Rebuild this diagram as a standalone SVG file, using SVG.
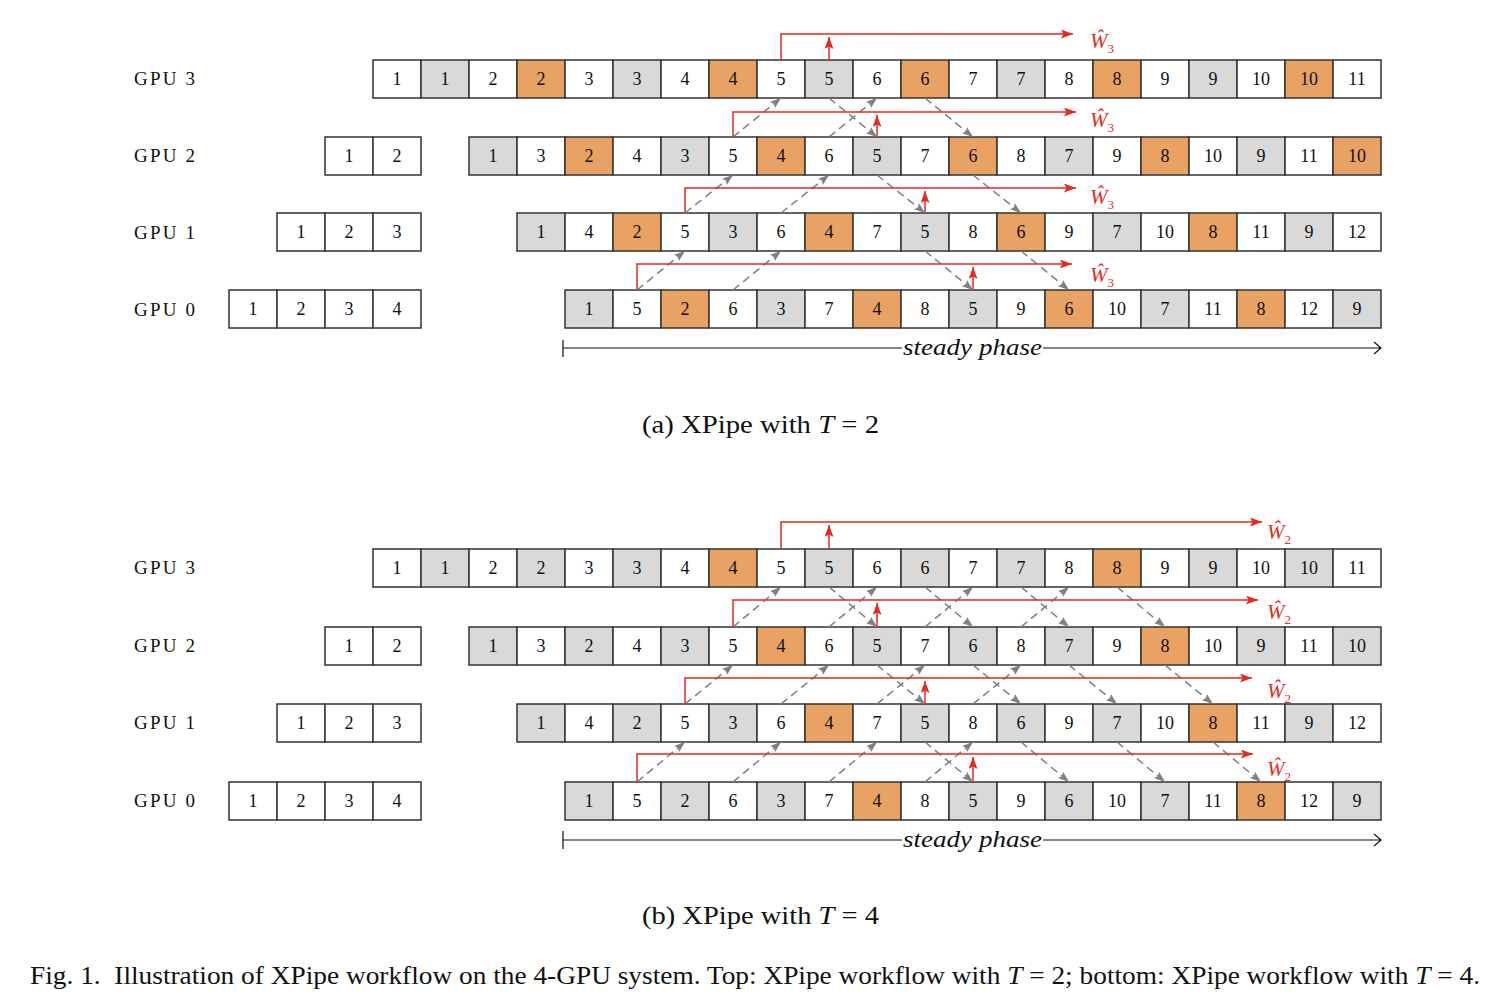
<svg xmlns="http://www.w3.org/2000/svg" width="1500" height="1006" viewBox="0 0 1500 1006">
<defs>
<style>
.cells rect{stroke:#333;stroke-width:1.5}
.w{fill:#fff}.g{fill:#d9d9d9}.o{fill:#e8a263}
text{font-family:"Liberation Serif","Times New Roman",serif;fill:#111}
.n{font-size:18px;text-anchor:middle}
.lbl{font-size:19px}
.red{stroke:#e8291c;stroke-width:1.5;fill:none}
.dash{stroke:#808080;stroke-width:1.5;stroke-dasharray:8 5;fill:none}
.blk{stroke:#111;stroke-width:1.2;fill:none}
.wl{fill:#e8291c;font-style:italic;font-size:21px}
.ws{fill:#e8291c;font-style:normal;font-size:13px}
.cap{font-size:26px}
.it{font-style:italic}
</style>
<marker id="ra" markerWidth="13" markerHeight="10" refX="12" refY="4.5" orient="auto" markerUnits="userSpaceOnUse"><path d="M0,0 L12,4.5 L0,9 L2.5,4.5 z" fill="#e8291c"/></marker>
<marker id="ga" markerWidth="12" markerHeight="10" refX="11" refY="4" orient="auto" markerUnits="userSpaceOnUse"><path d="M0,0 L11,4 L0,8 L2,4 z" fill="#808080"/></marker>
</defs>
<rect x="0" y="0" width="1500" height="1006" style="fill:#fff;stroke:none"/>

<g id="a-labels">
<text class="lbl" x="134" y="85" textLength="61">GPU 3</text>
<text class="lbl" x="134" y="162" textLength="61">GPU 2</text>
<text class="lbl" x="134" y="239" textLength="61">GPU 1</text>
<text class="lbl" x="134" y="316" textLength="61">GPU 0</text>
</g>

<g class="cells">
<g id="a-gpu3" transform="translate(0,60)">
<g id="a3-1"><rect class="w" x="373" width="48" height="38"/><text class="n" x="397" y="25">1</text></g>
<g id="a3-2"><rect class="g" x="421" width="48" height="38"/><text class="n" x="445" y="25">1</text></g>
<g id="a3-3"><rect class="w" x="469" width="48" height="38"/><text class="n" x="493" y="25">2</text></g>
<g id="a3-4"><rect class="o" x="517" width="48" height="38"/><text class="n" x="541" y="25">2</text></g>
<g id="a3-5"><rect class="w" x="565" width="48" height="38"/><text class="n" x="589" y="25">3</text></g>
<g id="a3-6"><rect class="g" x="613" width="48" height="38"/><text class="n" x="637" y="25">3</text></g>
<g id="a3-7"><rect class="w" x="661" width="48" height="38"/><text class="n" x="685" y="25">4</text></g>
<g id="a3-8"><rect class="o" x="709" width="48" height="38"/><text class="n" x="733" y="25">4</text></g>
<g id="a3-9"><rect class="w" x="757" width="48" height="38"/><text class="n" x="781" y="25">5</text></g>
<g id="a3-10"><rect class="g" x="805" width="48" height="38"/><text class="n" x="829" y="25">5</text></g>
<g id="a3-11"><rect class="w" x="853" width="48" height="38"/><text class="n" x="877" y="25">6</text></g>
<g id="a3-12"><rect class="o" x="901" width="48" height="38"/><text class="n" x="925" y="25">6</text></g>
<g id="a3-13"><rect class="w" x="949" width="48" height="38"/><text class="n" x="973" y="25">7</text></g>
<g id="a3-14"><rect class="g" x="997" width="48" height="38"/><text class="n" x="1021" y="25">7</text></g>
<g id="a3-15"><rect class="w" x="1045" width="48" height="38"/><text class="n" x="1069" y="25">8</text></g>
<g id="a3-16"><rect class="o" x="1093" width="48" height="38"/><text class="n" x="1117" y="25">8</text></g>
<g id="a3-17"><rect class="w" x="1141" width="48" height="38"/><text class="n" x="1165" y="25">9</text></g>
<g id="a3-18"><rect class="g" x="1189" width="48" height="38"/><text class="n" x="1213" y="25">9</text></g>
<g id="a3-19"><rect class="w" x="1237" width="48" height="38"/><text class="n" x="1261" y="25">10</text></g>
<g id="a3-20"><rect class="o" x="1285" width="48" height="38"/><text class="n" x="1309" y="25">10</text></g>
<g id="a3-21"><rect class="w" x="1333" width="48" height="38"/><text class="n" x="1357" y="25">11</text></g>
</g>

<g id="a-gpu2" transform="translate(0,137)">
<g id="a2-w1"><rect class="w" x="325" width="48" height="38"/><text class="n" x="349" y="25">1</text></g>
<g id="a2-w2"><rect class="w" x="373" width="48" height="38"/><text class="n" x="397" y="25">2</text></g>
<g id="a2-1"><rect class="g" x="469" width="48" height="38"/><text class="n" x="493" y="25">1</text></g>
<g id="a2-2"><rect class="w" x="517" width="48" height="38"/><text class="n" x="541" y="25">3</text></g>
<g id="a2-3"><rect class="o" x="565" width="48" height="38"/><text class="n" x="589" y="25">2</text></g>
<g id="a2-4"><rect class="w" x="613" width="48" height="38"/><text class="n" x="637" y="25">4</text></g>
<g id="a2-5"><rect class="g" x="661" width="48" height="38"/><text class="n" x="685" y="25">3</text></g>
<g id="a2-6"><rect class="w" x="709" width="48" height="38"/><text class="n" x="733" y="25">5</text></g>
<g id="a2-7"><rect class="o" x="757" width="48" height="38"/><text class="n" x="781" y="25">4</text></g>
<g id="a2-8"><rect class="w" x="805" width="48" height="38"/><text class="n" x="829" y="25">6</text></g>
<g id="a2-9"><rect class="g" x="853" width="48" height="38"/><text class="n" x="877" y="25">5</text></g>
<g id="a2-10"><rect class="w" x="901" width="48" height="38"/><text class="n" x="925" y="25">7</text></g>
<g id="a2-11"><rect class="o" x="949" width="48" height="38"/><text class="n" x="973" y="25">6</text></g>
<g id="a2-12"><rect class="w" x="997" width="48" height="38"/><text class="n" x="1021" y="25">8</text></g>
<g id="a2-13"><rect class="g" x="1045" width="48" height="38"/><text class="n" x="1069" y="25">7</text></g>
<g id="a2-14"><rect class="w" x="1093" width="48" height="38"/><text class="n" x="1117" y="25">9</text></g>
<g id="a2-15"><rect class="o" x="1141" width="48" height="38"/><text class="n" x="1165" y="25">8</text></g>
<g id="a2-16"><rect class="w" x="1189" width="48" height="38"/><text class="n" x="1213" y="25">10</text></g>
<g id="a2-17"><rect class="g" x="1237" width="48" height="38"/><text class="n" x="1261" y="25">9</text></g>
<g id="a2-18"><rect class="w" x="1285" width="48" height="38"/><text class="n" x="1309" y="25">11</text></g>
<g id="a2-19"><rect class="o" x="1333" width="48" height="38"/><text class="n" x="1357" y="25">10</text></g>
</g>

<g id="a-gpu1" transform="translate(0,213)">
<g id="a1-w1"><rect class="w" x="277" width="48" height="38"/><text class="n" x="301" y="25">1</text></g>
<g id="a1-w2"><rect class="w" x="325" width="48" height="38"/><text class="n" x="349" y="25">2</text></g>
<g id="a1-w3"><rect class="w" x="373" width="48" height="38"/><text class="n" x="397" y="25">3</text></g>
<g id="a1-1"><rect class="g" x="517" width="48" height="38"/><text class="n" x="541" y="25">1</text></g>
<g id="a1-2"><rect class="w" x="565" width="48" height="38"/><text class="n" x="589" y="25">4</text></g>
<g id="a1-3"><rect class="o" x="613" width="48" height="38"/><text class="n" x="637" y="25">2</text></g>
<g id="a1-4"><rect class="w" x="661" width="48" height="38"/><text class="n" x="685" y="25">5</text></g>
<g id="a1-5"><rect class="g" x="709" width="48" height="38"/><text class="n" x="733" y="25">3</text></g>
<g id="a1-6"><rect class="w" x="757" width="48" height="38"/><text class="n" x="781" y="25">6</text></g>
<g id="a1-7"><rect class="o" x="805" width="48" height="38"/><text class="n" x="829" y="25">4</text></g>
<g id="a1-8"><rect class="w" x="853" width="48" height="38"/><text class="n" x="877" y="25">7</text></g>
<g id="a1-9"><rect class="g" x="901" width="48" height="38"/><text class="n" x="925" y="25">5</text></g>
<g id="a1-10"><rect class="w" x="949" width="48" height="38"/><text class="n" x="973" y="25">8</text></g>
<g id="a1-11"><rect class="o" x="997" width="48" height="38"/><text class="n" x="1021" y="25">6</text></g>
<g id="a1-12"><rect class="w" x="1045" width="48" height="38"/><text class="n" x="1069" y="25">9</text></g>
<g id="a1-13"><rect class="g" x="1093" width="48" height="38"/><text class="n" x="1117" y="25">7</text></g>
<g id="a1-14"><rect class="w" x="1141" width="48" height="38"/><text class="n" x="1165" y="25">10</text></g>
<g id="a1-15"><rect class="o" x="1189" width="48" height="38"/><text class="n" x="1213" y="25">8</text></g>
<g id="a1-16"><rect class="w" x="1237" width="48" height="38"/><text class="n" x="1261" y="25">11</text></g>
<g id="a1-17"><rect class="g" x="1285" width="48" height="38"/><text class="n" x="1309" y="25">9</text></g>
<g id="a1-18"><rect class="w" x="1333" width="48" height="38"/><text class="n" x="1357" y="25">12</text></g>
</g>

<g id="a-gpu0" transform="translate(0,290)">
<g id="a0-w1"><rect class="w" x="229" width="48" height="38"/><text class="n" x="253" y="25">1</text></g>
<g id="a0-w2"><rect class="w" x="277" width="48" height="38"/><text class="n" x="301" y="25">2</text></g>
<g id="a0-w3"><rect class="w" x="325" width="48" height="38"/><text class="n" x="349" y="25">3</text></g>
<g id="a0-w4"><rect class="w" x="373" width="48" height="38"/><text class="n" x="397" y="25">4</text></g>
<g id="a0-1"><rect class="g" x="565" width="48" height="38"/><text class="n" x="589" y="25">1</text></g>
<g id="a0-2"><rect class="w" x="613" width="48" height="38"/><text class="n" x="637" y="25">5</text></g>
<g id="a0-3"><rect class="o" x="661" width="48" height="38"/><text class="n" x="685" y="25">2</text></g>
<g id="a0-4"><rect class="w" x="709" width="48" height="38"/><text class="n" x="733" y="25">6</text></g>
<g id="a0-5"><rect class="g" x="757" width="48" height="38"/><text class="n" x="781" y="25">3</text></g>
<g id="a0-6"><rect class="w" x="805" width="48" height="38"/><text class="n" x="829" y="25">7</text></g>
<g id="a0-7"><rect class="o" x="853" width="48" height="38"/><text class="n" x="877" y="25">4</text></g>
<g id="a0-8"><rect class="w" x="901" width="48" height="38"/><text class="n" x="925" y="25">8</text></g>
<g id="a0-9"><rect class="g" x="949" width="48" height="38"/><text class="n" x="973" y="25">5</text></g>
<g id="a0-10"><rect class="w" x="997" width="48" height="38"/><text class="n" x="1021" y="25">9</text></g>
<g id="a0-11"><rect class="o" x="1045" width="48" height="38"/><text class="n" x="1069" y="25">6</text></g>
<g id="a0-12"><rect class="w" x="1093" width="48" height="38"/><text class="n" x="1117" y="25">10</text></g>
<g id="a0-13"><rect class="g" x="1141" width="48" height="38"/><text class="n" x="1165" y="25">7</text></g>
<g id="a0-14"><rect class="w" x="1189" width="48" height="38"/><text class="n" x="1213" y="25">11</text></g>
<g id="a0-15"><rect class="o" x="1237" width="48" height="38"/><text class="n" x="1261" y="25">8</text></g>
<g id="a0-16"><rect class="w" x="1285" width="48" height="38"/><text class="n" x="1309" y="25">12</text></g>
<g id="a0-17"><rect class="g" x="1333" width="48" height="38"/><text class="n" x="1357" y="25">9</text></g>
</g>

<g id="b-gpu3" transform="translate(0,549)">
<g id="b3-1"><rect class="w" x="373" width="48" height="38"/><text class="n" x="397" y="25">1</text></g>
<g id="b3-2"><rect class="g" x="421" width="48" height="38"/><text class="n" x="445" y="25">1</text></g>
<g id="b3-3"><rect class="w" x="469" width="48" height="38"/><text class="n" x="493" y="25">2</text></g>
<g id="b3-4"><rect class="g" x="517" width="48" height="38"/><text class="n" x="541" y="25">2</text></g>
<g id="b3-5"><rect class="w" x="565" width="48" height="38"/><text class="n" x="589" y="25">3</text></g>
<g id="b3-6"><rect class="g" x="613" width="48" height="38"/><text class="n" x="637" y="25">3</text></g>
<g id="b3-7"><rect class="w" x="661" width="48" height="38"/><text class="n" x="685" y="25">4</text></g>
<g id="b3-8"><rect class="o" x="709" width="48" height="38"/><text class="n" x="733" y="25">4</text></g>
<g id="b3-9"><rect class="w" x="757" width="48" height="38"/><text class="n" x="781" y="25">5</text></g>
<g id="b3-10"><rect class="g" x="805" width="48" height="38"/><text class="n" x="829" y="25">5</text></g>
<g id="b3-11"><rect class="w" x="853" width="48" height="38"/><text class="n" x="877" y="25">6</text></g>
<g id="b3-12"><rect class="g" x="901" width="48" height="38"/><text class="n" x="925" y="25">6</text></g>
<g id="b3-13"><rect class="w" x="949" width="48" height="38"/><text class="n" x="973" y="25">7</text></g>
<g id="b3-14"><rect class="g" x="997" width="48" height="38"/><text class="n" x="1021" y="25">7</text></g>
<g id="b3-15"><rect class="w" x="1045" width="48" height="38"/><text class="n" x="1069" y="25">8</text></g>
<g id="b3-16"><rect class="o" x="1093" width="48" height="38"/><text class="n" x="1117" y="25">8</text></g>
<g id="b3-17"><rect class="w" x="1141" width="48" height="38"/><text class="n" x="1165" y="25">9</text></g>
<g id="b3-18"><rect class="g" x="1189" width="48" height="38"/><text class="n" x="1213" y="25">9</text></g>
<g id="b3-19"><rect class="w" x="1237" width="48" height="38"/><text class="n" x="1261" y="25">10</text></g>
<g id="b3-20"><rect class="g" x="1285" width="48" height="38"/><text class="n" x="1309" y="25">10</text></g>
<g id="b3-21"><rect class="w" x="1333" width="48" height="38"/><text class="n" x="1357" y="25">11</text></g>
</g>

<g id="b-gpu2" transform="translate(0,627)">
<g id="b2-w1"><rect class="w" x="325" width="48" height="38"/><text class="n" x="349" y="25">1</text></g>
<g id="b2-w2"><rect class="w" x="373" width="48" height="38"/><text class="n" x="397" y="25">2</text></g>
<g id="b2-1"><rect class="g" x="469" width="48" height="38"/><text class="n" x="493" y="25">1</text></g>
<g id="b2-2"><rect class="w" x="517" width="48" height="38"/><text class="n" x="541" y="25">3</text></g>
<g id="b2-3"><rect class="g" x="565" width="48" height="38"/><text class="n" x="589" y="25">2</text></g>
<g id="b2-4"><rect class="w" x="613" width="48" height="38"/><text class="n" x="637" y="25">4</text></g>
<g id="b2-5"><rect class="g" x="661" width="48" height="38"/><text class="n" x="685" y="25">3</text></g>
<g id="b2-6"><rect class="w" x="709" width="48" height="38"/><text class="n" x="733" y="25">5</text></g>
<g id="b2-7"><rect class="o" x="757" width="48" height="38"/><text class="n" x="781" y="25">4</text></g>
<g id="b2-8"><rect class="w" x="805" width="48" height="38"/><text class="n" x="829" y="25">6</text></g>
<g id="b2-9"><rect class="g" x="853" width="48" height="38"/><text class="n" x="877" y="25">5</text></g>
<g id="b2-10"><rect class="w" x="901" width="48" height="38"/><text class="n" x="925" y="25">7</text></g>
<g id="b2-11"><rect class="g" x="949" width="48" height="38"/><text class="n" x="973" y="25">6</text></g>
<g id="b2-12"><rect class="w" x="997" width="48" height="38"/><text class="n" x="1021" y="25">8</text></g>
<g id="b2-13"><rect class="g" x="1045" width="48" height="38"/><text class="n" x="1069" y="25">7</text></g>
<g id="b2-14"><rect class="w" x="1093" width="48" height="38"/><text class="n" x="1117" y="25">9</text></g>
<g id="b2-15"><rect class="o" x="1141" width="48" height="38"/><text class="n" x="1165" y="25">8</text></g>
<g id="b2-16"><rect class="w" x="1189" width="48" height="38"/><text class="n" x="1213" y="25">10</text></g>
<g id="b2-17"><rect class="g" x="1237" width="48" height="38"/><text class="n" x="1261" y="25">9</text></g>
<g id="b2-18"><rect class="w" x="1285" width="48" height="38"/><text class="n" x="1309" y="25">11</text></g>
<g id="b2-19"><rect class="g" x="1333" width="48" height="38"/><text class="n" x="1357" y="25">10</text></g>
</g>

<g id="b-gpu1" transform="translate(0,704)">
<g id="b1-w1"><rect class="w" x="277" width="48" height="38"/><text class="n" x="301" y="25">1</text></g>
<g id="b1-w2"><rect class="w" x="325" width="48" height="38"/><text class="n" x="349" y="25">2</text></g>
<g id="b1-w3"><rect class="w" x="373" width="48" height="38"/><text class="n" x="397" y="25">3</text></g>
<g id="b1-1"><rect class="g" x="517" width="48" height="38"/><text class="n" x="541" y="25">1</text></g>
<g id="b1-2"><rect class="w" x="565" width="48" height="38"/><text class="n" x="589" y="25">4</text></g>
<g id="b1-3"><rect class="g" x="613" width="48" height="38"/><text class="n" x="637" y="25">2</text></g>
<g id="b1-4"><rect class="w" x="661" width="48" height="38"/><text class="n" x="685" y="25">5</text></g>
<g id="b1-5"><rect class="g" x="709" width="48" height="38"/><text class="n" x="733" y="25">3</text></g>
<g id="b1-6"><rect class="w" x="757" width="48" height="38"/><text class="n" x="781" y="25">6</text></g>
<g id="b1-7"><rect class="o" x="805" width="48" height="38"/><text class="n" x="829" y="25">4</text></g>
<g id="b1-8"><rect class="w" x="853" width="48" height="38"/><text class="n" x="877" y="25">7</text></g>
<g id="b1-9"><rect class="g" x="901" width="48" height="38"/><text class="n" x="925" y="25">5</text></g>
<g id="b1-10"><rect class="w" x="949" width="48" height="38"/><text class="n" x="973" y="25">8</text></g>
<g id="b1-11"><rect class="g" x="997" width="48" height="38"/><text class="n" x="1021" y="25">6</text></g>
<g id="b1-12"><rect class="w" x="1045" width="48" height="38"/><text class="n" x="1069" y="25">9</text></g>
<g id="b1-13"><rect class="g" x="1093" width="48" height="38"/><text class="n" x="1117" y="25">7</text></g>
<g id="b1-14"><rect class="w" x="1141" width="48" height="38"/><text class="n" x="1165" y="25">10</text></g>
<g id="b1-15"><rect class="o" x="1189" width="48" height="38"/><text class="n" x="1213" y="25">8</text></g>
<g id="b1-16"><rect class="w" x="1237" width="48" height="38"/><text class="n" x="1261" y="25">11</text></g>
<g id="b1-17"><rect class="g" x="1285" width="48" height="38"/><text class="n" x="1309" y="25">9</text></g>
<g id="b1-18"><rect class="w" x="1333" width="48" height="38"/><text class="n" x="1357" y="25">12</text></g>
</g>

<g id="b-gpu0" transform="translate(0,782)">
<g id="b0-w1"><rect class="w" x="229" width="48" height="38"/><text class="n" x="253" y="25">1</text></g>
<g id="b0-w2"><rect class="w" x="277" width="48" height="38"/><text class="n" x="301" y="25">2</text></g>
<g id="b0-w3"><rect class="w" x="325" width="48" height="38"/><text class="n" x="349" y="25">3</text></g>
<g id="b0-w4"><rect class="w" x="373" width="48" height="38"/><text class="n" x="397" y="25">4</text></g>
<g id="b0-1"><rect class="g" x="565" width="48" height="38"/><text class="n" x="589" y="25">1</text></g>
<g id="b0-2"><rect class="w" x="613" width="48" height="38"/><text class="n" x="637" y="25">5</text></g>
<g id="b0-3"><rect class="g" x="661" width="48" height="38"/><text class="n" x="685" y="25">2</text></g>
<g id="b0-4"><rect class="w" x="709" width="48" height="38"/><text class="n" x="733" y="25">6</text></g>
<g id="b0-5"><rect class="g" x="757" width="48" height="38"/><text class="n" x="781" y="25">3</text></g>
<g id="b0-6"><rect class="w" x="805" width="48" height="38"/><text class="n" x="829" y="25">7</text></g>
<g id="b0-7"><rect class="o" x="853" width="48" height="38"/><text class="n" x="877" y="25">4</text></g>
<g id="b0-8"><rect class="w" x="901" width="48" height="38"/><text class="n" x="925" y="25">8</text></g>
<g id="b0-9"><rect class="g" x="949" width="48" height="38"/><text class="n" x="973" y="25">5</text></g>
<g id="b0-10"><rect class="w" x="997" width="48" height="38"/><text class="n" x="1021" y="25">9</text></g>
<g id="b0-11"><rect class="g" x="1045" width="48" height="38"/><text class="n" x="1069" y="25">6</text></g>
<g id="b0-12"><rect class="w" x="1093" width="48" height="38"/><text class="n" x="1117" y="25">10</text></g>
<g id="b0-13"><rect class="g" x="1141" width="48" height="38"/><text class="n" x="1165" y="25">7</text></g>
<g id="b0-14"><rect class="w" x="1189" width="48" height="38"/><text class="n" x="1213" y="25">11</text></g>
<g id="b0-15"><rect class="o" x="1237" width="48" height="38"/><text class="n" x="1261" y="25">8</text></g>
<g id="b0-16"><rect class="w" x="1285" width="48" height="38"/><text class="n" x="1309" y="25">12</text></g>
<g id="b0-17"><rect class="g" x="1333" width="48" height="38"/><text class="n" x="1357" y="25">9</text></g>
</g>
</g>

<g id="b-labels">
<text class="lbl" x="134" y="574" textLength="61">GPU 3</text>
<text class="lbl" x="134" y="652" textLength="61">GPU 2</text>
<text class="lbl" x="134" y="729" textLength="61">GPU 1</text>
<text class="lbl" x="134" y="807" textLength="61">GPU 0</text>
</g>

<g id="connectors">
<path class="dash" marker-end="url(#ga)" d="M733,137 L781,98"/>
<path class="dash" marker-end="url(#ga)" d="M829,137 L877,98"/>
<path class="dash" marker-end="url(#ga)" d="M829,98 L877,137"/>
<path class="dash" marker-end="url(#ga)" d="M925,98 L973,137"/>
<path class="dash" marker-end="url(#ga)" d="M685,213 L733,175"/>
<path class="dash" marker-end="url(#ga)" d="M781,213 L829,175"/>
<path class="dash" marker-end="url(#ga)" d="M877,175 L925,213"/>
<path class="dash" marker-end="url(#ga)" d="M973,175 L1021,213"/>
<path class="dash" marker-end="url(#ga)" d="M637,290 L685,251"/>
<path class="dash" marker-end="url(#ga)" d="M733,290 L781,251"/>
<path class="dash" marker-end="url(#ga)" d="M925,251 L973,290"/>
<path class="dash" marker-end="url(#ga)" d="M1021,251 L1069,290"/>
<path class="red" marker-end="url(#ra)" d="M781,60 V34 H1073"/>
<path class="red" marker-end="url(#ra)" d="M829,60 V37"/>
<path class="red" marker-end="url(#ra)" d="M733,137 V112 H1076"/>
<path class="red" marker-end="url(#ra)" d="M877,137 V115"/>
<path class="red" marker-end="url(#ra)" d="M685,213 V188 H1076"/>
<path class="red" marker-end="url(#ra)" d="M925,213 V191"/>
<path class="red" marker-end="url(#ra)" d="M637,290 V264 H1072"/>
<path class="red" marker-end="url(#ra)" d="M973,290 V267"/>
<path class="blk" d="M563,340 V357 M563,348 H902 M1043,348 H1380 M1374,342 L1381,348 L1374,354"/>
<path class="dash" marker-end="url(#ga)" d="M733,627 L781,587"/>
<path class="dash" marker-end="url(#ga)" d="M829,627 L877,587"/>
<path class="dash" marker-end="url(#ga)" d="M925,627 L973,587"/>
<path class="dash" marker-end="url(#ga)" d="M1021,627 L1069,587"/>
<path class="dash" marker-end="url(#ga)" d="M829,587 L877,627"/>
<path class="dash" marker-end="url(#ga)" d="M925,587 L973,627"/>
<path class="dash" marker-end="url(#ga)" d="M1021,587 L1069,627"/>
<path class="dash" marker-end="url(#ga)" d="M1117,587 L1165,627"/>
<path class="dash" marker-end="url(#ga)" d="M685,704 L733,665"/>
<path class="dash" marker-end="url(#ga)" d="M781,704 L829,665"/>
<path class="dash" marker-end="url(#ga)" d="M877,704 L925,665"/>
<path class="dash" marker-end="url(#ga)" d="M973,704 L1021,665"/>
<path class="dash" marker-end="url(#ga)" d="M877,665 L925,704"/>
<path class="dash" marker-end="url(#ga)" d="M973,665 L1021,704"/>
<path class="dash" marker-end="url(#ga)" d="M1069,665 L1117,704"/>
<path class="dash" marker-end="url(#ga)" d="M1165,665 L1213,704"/>
<path class="dash" marker-end="url(#ga)" d="M637,782 L685,742"/>
<path class="dash" marker-end="url(#ga)" d="M733,782 L781,742"/>
<path class="dash" marker-end="url(#ga)" d="M829,782 L877,742"/>
<path class="dash" marker-end="url(#ga)" d="M925,782 L973,742"/>
<path class="dash" marker-end="url(#ga)" d="M925,742 L973,782"/>
<path class="dash" marker-end="url(#ga)" d="M1021,742 L1069,782"/>
<path class="dash" marker-end="url(#ga)" d="M1117,742 L1165,782"/>
<path class="dash" marker-end="url(#ga)" d="M1213,742 L1261,782"/>
<path class="red" marker-end="url(#ra)" d="M781,549 V522 H1262"/>
<path class="red" marker-end="url(#ra)" d="M829,549 V525"/>
<path class="red" marker-end="url(#ra)" d="M733,627 V600 H1258"/>
<path class="red" marker-end="url(#ra)" d="M877,627 V603"/>
<path class="red" marker-end="url(#ra)" d="M685,704 V678 H1252"/>
<path class="red" marker-end="url(#ra)" d="M925,704 V681"/>
<path class="red" marker-end="url(#ra)" d="M637,782 V754 H1253"/>
<path class="red" marker-end="url(#ra)" d="M973,782 V757"/>
<path class="blk" d="M563,831 V849 M563,840 H902 M1043,840 H1380 M1374,834 L1381,840 L1374,846"/>
</g>

<g id="a-wlabels">
<text class="wl" x="1090" y="48">Ŵ<tspan class="ws" dy="5">3</tspan></text>
<text class="wl" x="1090" y="127">Ŵ<tspan class="ws" dy="5">3</tspan></text>
<text class="wl" x="1090" y="204">Ŵ<tspan class="ws" dy="5">3</tspan></text>
<text class="wl" x="1090" y="282">Ŵ<tspan class="ws" dy="5">3</tspan></text>
</g>
<g id="b-wlabels">
<text class="wl" x="1267" y="539">Ŵ<tspan class="ws" dy="5">2</tspan></text>
<text class="wl" x="1267" y="619">Ŵ<tspan class="ws" dy="5">2</tspan></text>
<text class="wl" x="1267" y="698">Ŵ<tspan class="ws" dy="5">2</tspan></text>
<text class="wl" x="1267" y="776">Ŵ<tspan class="ws" dy="5">2</tspan></text>
</g>

<g id="steady-labels">
<text class="it" x="903" y="355" font-size="23" textLength="139" lengthAdjust="spacingAndGlyphs">steady phase</text>
<text class="it" x="903" y="847" font-size="23" textLength="139" lengthAdjust="spacingAndGlyphs">steady phase</text>
</g>

<g id="captions">
<text class="cap" x="642" y="433" textLength="237" lengthAdjust="spacingAndGlyphs">(a) XPipe with <tspan class="it">T</tspan> = 2</text>
<text class="cap" x="642" y="924" textLength="237" lengthAdjust="spacingAndGlyphs">(b) XPipe with <tspan class="it">T</tspan> = 4</text>
<text x="30" y="984" font-size="25" textLength="1450" lengthAdjust="spacingAndGlyphs">Fig. 1.&#160; Illustration of XPipe workflow on the 4-GPU system. Top: XPipe workflow with <tspan class="it">T</tspan> = 2; bottom: XPipe workflow with <tspan class="it">T</tspan> = 4.</text>
</g>
</svg>
